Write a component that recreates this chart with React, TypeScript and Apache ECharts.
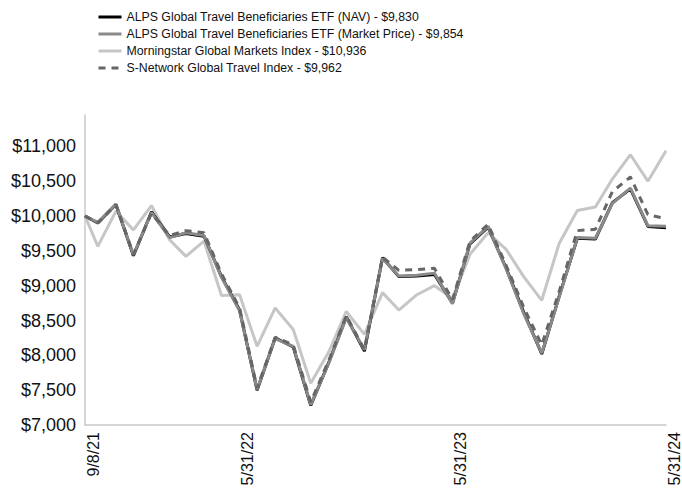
import React, { useEffect, useRef } from "react";
import * as echarts from "echarts";

const dates = [
  "2021-09-08", "2021-09-30", "2021-10-31", "2021-11-30", "2021-12-31",
  "2022-01-31", "2022-02-28", "2022-03-31", "2022-04-30", "2022-05-31",
  "2022-06-30", "2022-07-31", "2022-08-31", "2022-09-30", "2022-10-31",
  "2022-11-30", "2022-12-31", "2023-01-31", "2023-02-28", "2023-03-31",
  "2023-04-30", "2023-05-31", "2023-06-30", "2023-07-31", "2023-08-31",
  "2023-09-30", "2023-10-31", "2023-11-30", "2023-12-31", "2024-01-31",
  "2024-02-29", "2024-03-31", "2024-04-30", "2024-05-31",
];

const navValues = [
  10000, 9900, 10165, 9430, 10060, 9700, 9750, 9710, 9130, 8650,
  7500, 8250, 8120, 7280, 7900, 8550, 8060, 9400, 9130, 9140,
  9160, 8750, 9600, 9840, 9250, 8620, 8020, 8850, 9680, 9670,
  10190, 10390, 9850, 9830,
];

const marketValues = [
  10000, 9910, 10170, 9440, 10050, 9690, 9760, 9720, 9120, 8640,
  7510, 8240, 8130, 7290, 7890, 8540, 8080, 9390, 9140, 9150,
  9180, 8740, 9610, 9850, 9240, 8600, 8030, 8840, 9690, 9680,
  10180, 10400, 9860, 9854,
];

const morningstarValues = [
  10000, 9565, 10070, 9800, 10150, 9660, 9420, 9640, 8860, 8870,
  8130, 8680, 8370, 7600, 8050, 8630, 8300, 8900, 8650, 8870,
  9000, 8820, 9450, 9760, 9520, 9130, 8790, 9610, 10080, 10130,
  10530, 10880, 10500, 10936,
];

const snetValues = [
  10000, 9900, 10160, 9450, 10040, 9720, 9790, 9760, 9170, 8680,
  7530, 8260, 8150, 7330, 7930, 8570, 8080, 9410, 9220, 9230,
  9250, 8800, 9640, 9880, 9290, 8690, 8150, 8920, 9790, 9810,
  10350, 10560, 10020, 9962,
];

const seriesNames = [
  "ALPS Global Travel Beneficiaries ETF (NAV) - $9,830",
  "ALPS Global Travel Beneficiaries ETF (Market Price) - $9,854",
  "Morningstar Global Markets Index - $10,936",
  "S-Network Global Travel Index - $9,962",
];

const tickDates = ["2021-09-08", "2022-05-31", "2023-05-31", "2024-05-31"];
const tickLabels = ["9/8/21", "5/31/22", "5/31/23", "5/31/24"];

const ts = (d: string) => {
  const [y, m, day] = d.split("-").map(Number);
  return Date.UTC(y, m - 1, day);
};

const pairs = (vals: number[]) => dates.map((d, i) => [ts(d), vals[i]]);

const FONT = "'Liberation Sans', Arial, Helvetica, sans-serif";

export default function App() {
  const ref = useRef<HTMLDivElement>(null);
  useEffect(() => {
    if (!ref.current) return;
    const chart = echarts.init(ref.current, undefined, { renderer: "svg" });
    const tickTs = tickDates.map(ts);
    chart.setOption({
      animation: false,
      textStyle: { fontFamily: FONT },
      legend: {
        orient: "vertical",
        left: 92,
        top: 6,
        itemWidth: 23,
        itemHeight: 12,
        itemGap: 5,
        itemStyle: { opacity: 0 },
        lineStyle: { width: 3 },
        textStyle: { fontSize: 12.3, color: "#111", fontFamily: FONT },
        data: seriesNames,
      },
      grid: { left: 85, right: 15, top: 115, bottom: 73, containLabel: false },
      xAxis: {
        type: "value",
        min: ts(dates[0]),
        max: ts(dates[dates.length - 1]),
        axisLine: { show: true, lineStyle: { color: "#c8c8c8", width: 1.5 } },
        axisTick: { show: false },
        splitLine: { show: false },
        axisLabel: {
          customValues: tickTs,
          rotate: 90,
          verticalAlign: "top",
          margin: 7,
          fontSize: 16,
          color: "#111",
          fontFamily: FONT,
          formatter: (v: number) => {
            const i = tickTs.indexOf(v);
            return i >= 0 ? tickLabels[i] : "";
          },
        },
      },
      yAxis: {
        type: "value",
        min: 7000,
        max: 11450,
        interval: 500,
        axisLine: { show: true, lineStyle: { color: "#c8c8c8", width: 1.5 } },
        axisTick: { show: false },
        splitLine: { show: false },
        axisLabel: {
          showMaxLabel: false,
          margin: 9,
          fontSize: 18,
          color: "#111",
          fontFamily: FONT,
          formatter: (v: number) =>
            v > 11000 ? "" : "$" + v.toLocaleString("en-US"),
        },
      },
      series: [
        {
          name: seriesNames[0],
          type: "line",
          data: pairs(navValues),
          symbol: "none",
          z: 3,
          lineStyle: { color: "#000000", width: 3 },
          itemStyle: { color: "#000000" },
        },
        {
          name: seriesNames[1],
          type: "line",
          data: pairs(marketValues),
          symbol: "none",
          z: 4,
          lineStyle: { color: "#8a8a8a", width: 3 },
          itemStyle: { color: "#8a8a8a" },
        },
        {
          name: seriesNames[2],
          type: "line",
          data: pairs(morningstarValues),
          symbol: "none",
          z: 2,
          lineStyle: { color: "#c6c6c6", width: 3 },
          itemStyle: { color: "#c6c6c6" },
        },
        {
          name: seriesNames[3],
          type: "line",
          data: pairs(snetValues),
          symbol: "none",
          z: 5,
          lineStyle: { color: "#666666", width: 3, type: [7, 6] },
          itemStyle: { color: "#666666" },
        },
      ],
    });
    return () => chart.dispose();
  }, []);
  return (
    <div
      ref={ref}
      style={{ position: "absolute", left: 0, top: 0, width: 682, height: 498 }}
    />
  );
}
